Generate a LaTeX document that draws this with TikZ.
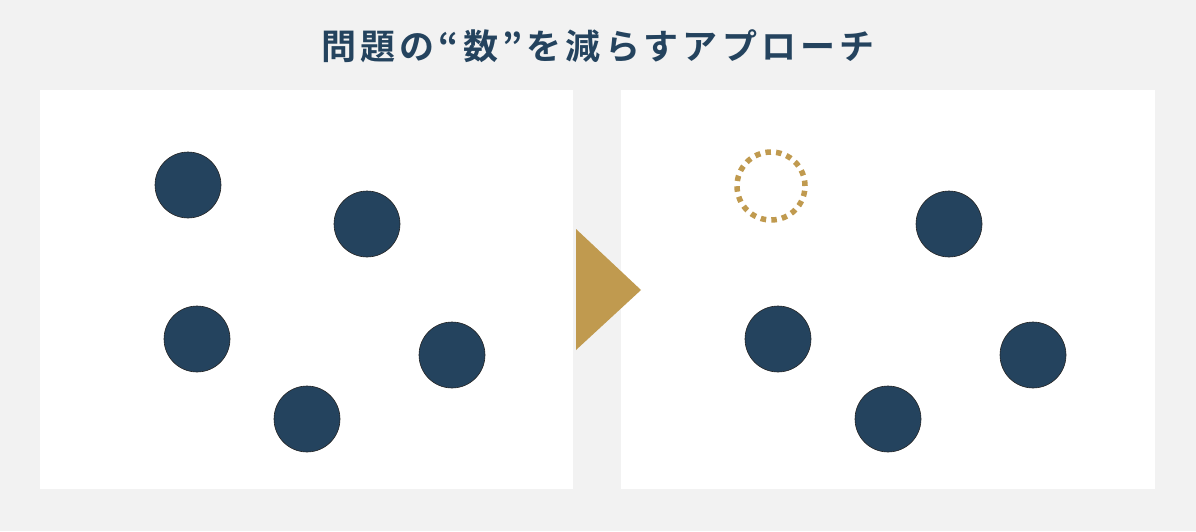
\documentclass[tikz,border=0pt]{standalone}
\usepackage{fontspec}
\newfontfamily\cjk{Noto Sans CJK JP}[BoldFont={* Bold}, LetterSpace=12]
\definecolor{navy}{HTML}{24435E}
\definecolor{gold}{HTML}{C09A4F}
\definecolor{bg}{HTML}{F2F2F2}
\begin{document}
\begin{tikzpicture}[
				x=1pt, y=-1pt,
				panel/.style={fill=white, draw=none},
				dot/.style={circle, draw=black!85, semithick, fill=navy, minimum size=66pt, inner sep=0pt},
				gone/.style={circle, draw=gold, line width=5.5pt, dash pattern=on 5.5pt off 5.2pt, minimum size=68pt, inner sep=0pt},
			]
				\fill[bg] (0,0) rectangle (1196,531);
				\useasboundingbox (0,0) rectangle (1196,531);
				\node[font=\cjk\bfseries\fontsize{35}{40}\selectfont, text=navy] (title) at (598,46) {問題の“数”を減らすアプローチ};

				% before
				\fill[panel] (40,90) rectangle (573,489);
				\node[dot] (a1) at (188,185) {};
				\node[dot] (a2) at (367,224) {};
				\node[dot] (a3) at (197,339) {};
				\node[dot] (a4) at (452,355) {};
				\node[dot] (a5) at (307,419) {};

				% after
				\fill[panel] (621,90) rectangle (1155,489);
				\node[gone] (b1) at (771,186) {};
				\node[dot] (b2) at (949,224) {};
				\node[dot] (b3) at (778,339) {};
				\node[dot] (b4) at (1033,355) {};
				\node[dot] (b5) at (888,419) {};

				\fill[gold] (576,229) -- (576,350) -- (641,290) -- cycle;
			\end{tikzpicture}
\end{document}
